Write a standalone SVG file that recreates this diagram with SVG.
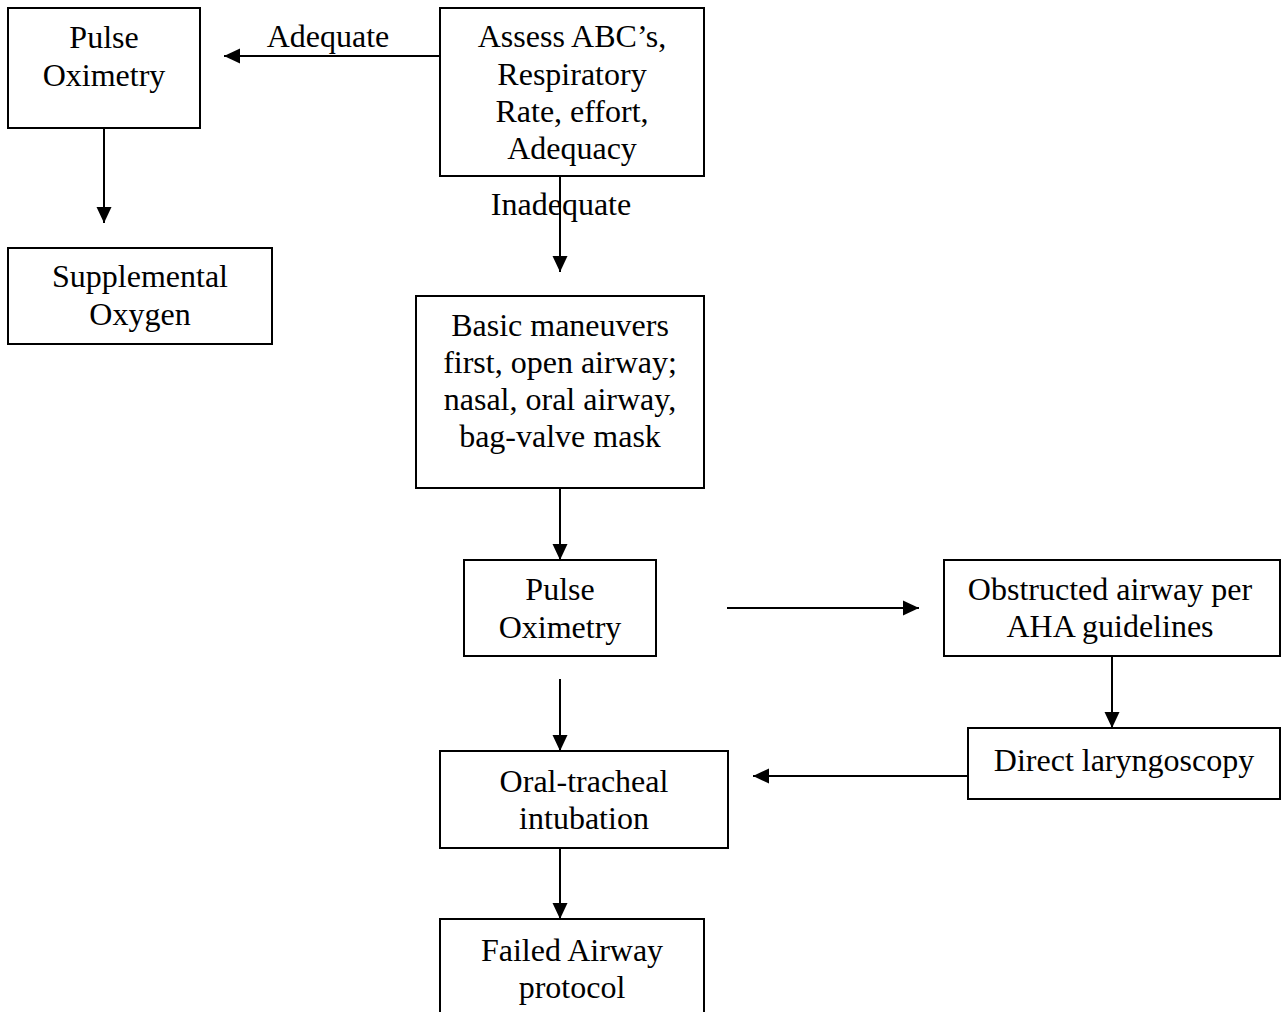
<svg xmlns="http://www.w3.org/2000/svg" width="1287" height="1012" viewBox="0 0 1287 1012">
  <style>
    .box { fill: #ffffff; stroke: #000000; stroke-width: 2; }
    .lbl { font-family: "Liberation Serif", "Times New Roman", serif; font-size: 32px; fill: #000000; text-anchor: middle; }
    .edge { stroke: #000000; stroke-width: 2; fill: none; marker-end: url(#arrow); }
  </style>
  <defs>
    <marker id="arrow" markerUnits="userSpaceOnUse" markerWidth="17" markerHeight="16" refX="16" refY="8" orient="auto" overflow="visible">
      <path d="M0,0.5 L16,8 L0,15.5 Z" fill="#000000"/>
    </marker>
  </defs>
  <rect width="1287" height="1012" fill="#ffffff"/>

  <g id="connectors">
    <line class="edge" x1="440" y1="56" x2="224" y2="56"/>
    <line class="edge" x1="104" y1="128" x2="104" y2="223"/>
    <line class="edge" x1="560" y1="176" x2="560" y2="272"/>
    <line class="edge" x1="560" y1="488" x2="560" y2="560"/>
    <line class="edge" x1="727" y1="608" x2="919" y2="608"/>
    <line class="edge" x1="560" y1="679" x2="560" y2="751"/>
    <line class="edge" x1="1112" y1="656" x2="1112" y2="728"/>
    <line class="edge" x1="968" y1="776" x2="753" y2="776"/>
    <line class="edge" x1="560" y1="848" x2="560" y2="919"/>
    <text class="lbl" x="328" y="47">Adequate</text>
    <text class="lbl" x="561" y="215">Inadequate</text>
  </g>

  <g id="pulse-ox-top">
    <rect class="box" x="8" y="8" width="192" height="120"/>
    <text class="lbl" x="104" y="48">Pulse</text>
    <text class="lbl" x="104" y="86">Oximetry</text>
  </g>

  <g id="assess">
    <rect class="box" x="440" y="8" width="264" height="168"/>
    <text class="lbl" x="572" y="47">Assess ABC’s,</text>
    <text class="lbl" x="572" y="85">Respiratory</text>
    <text class="lbl" x="572" y="122">Rate, effort,</text>
    <text class="lbl" x="572" y="159">Adequacy</text>
  </g>

  <g id="supplemental-oxygen">
    <rect class="box" x="8" y="248" width="264" height="96"/>
    <text class="lbl" x="140" y="287">Supplemental</text>
    <text class="lbl" x="140" y="325">Oxygen</text>
  </g>

  <g id="basic-maneuvers">
    <rect class="box" x="416" y="296" width="288" height="192"/>
    <text class="lbl" x="560" y="336">Basic maneuvers</text>
    <text class="lbl" x="560" y="373">first, open airway;</text>
    <text class="lbl" x="560" y="410">nasal, oral airway,</text>
    <text class="lbl" x="560" y="447">bag-valve mask</text>
  </g>

  <g id="pulse-ox-mid">
    <rect class="box" x="464" y="560" width="192" height="96"/>
    <text class="lbl" x="560" y="600">Pulse</text>
    <text class="lbl" x="560" y="638">Oximetry</text>
  </g>

  <g id="obstructed-airway">
    <rect class="box" x="944" y="560" width="336" height="96"/>
    <text class="lbl" x="1110" y="600">Obstructed airway per</text>
    <text class="lbl" x="1110" y="637">AHA guidelines</text>
  </g>

  <g id="direct-laryngoscopy">
    <rect class="box" x="968" y="728" width="312" height="71"/>
    <text class="lbl" x="1124" y="771">Direct laryngoscopy</text>
  </g>

  <g id="oral-tracheal">
    <rect class="box" x="440" y="751" width="288" height="97"/>
    <text class="lbl" x="584" y="792">Oral-tracheal</text>
    <text class="lbl" x="584" y="829">intubation</text>
  </g>

  <g id="failed-airway">
    <rect class="box" x="440" y="919" width="264" height="120"/>
    <text class="lbl" x="572" y="961">Failed Airway</text>
    <text class="lbl" x="572" y="998">protocol</text>
  </g>
</svg>
